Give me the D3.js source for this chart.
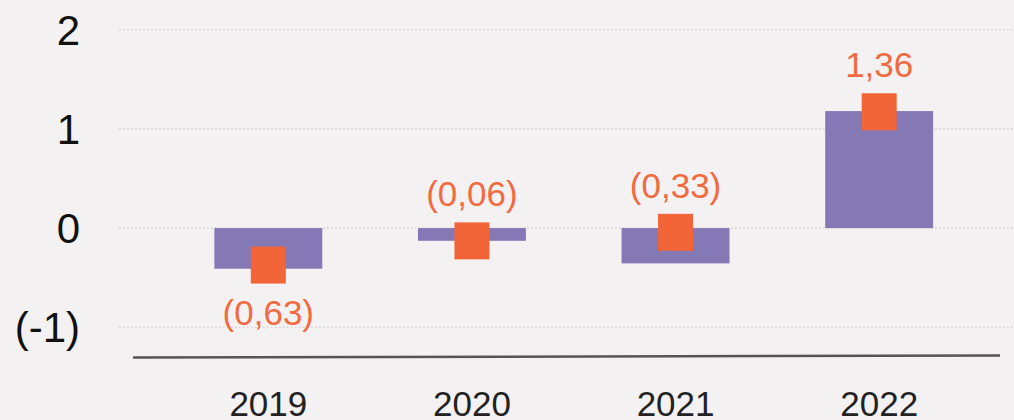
<!DOCTYPE html>
<html>
<meta charset="utf-8">
<style>
body {
  margin: 0;
  background: #f3f1f2;
  font-family: "Liberation Sans", Helvetica, Arial, sans-serif;
}
svg { display: block; }
.grid line {
  stroke: #c9c6c8;
  stroke-width: 1.2;
  stroke-dasharray: 1.5, 2.5;
}
.tick-label { font-size: 42px; fill: #111; }
.year-label { font-size: 35px; fill: #222; }
.val-label  { font-size: 35px; fill: #f26a40; }
</style>
<body>
<script src="https://cdn.jsdelivr.net/npm/d3@7"></script>
<script>
var years = ["2019", "2020", "2021", "2022"];
var barValues = [-0.41, -0.128, -0.356, 1.18];
var markerValues = [-0.373, -0.129, -0.043, 1.173];
var valueLabels = ["(0,63)", "(0,06)", "(0,33)", "1,36"];
var yTicks = [-1, 0, 1, 2];
var yTickLabels = ["(-1)", "0", "1", "2"];

var width = 1014, height = 420;

var svg = d3.select("body").append("svg")
    .attr("width", width)
    .attr("height", height);

var x = d3.scaleBand()
    .domain(years)
    .range([166.5, 981])
    .paddingInner(0.47)
    .paddingOuter(0.235);

var y = d3.scaleLinear()
    .domain([-1.3, 2.3])
    .range([357, 0]);

// dotted gridlines
svg.append("g")
    .attr("class", "grid")
    .selectAll("line")
    .data(yTicks)
    .enter().append("line")
    .attr("x1", 119)
    .attr("x2", width)
    .attr("y1", function(d) { return y(d); })
    .attr("y2", function(d) { return y(d); });

// y tick labels
svg.append("g")
    .selectAll("text")
    .data(yTicks)
    .enter().append("text")
    .attr("class", "tick-label")
    .attr("x", 80)
    .attr("y", function(d) { return y(d); })
    .attr("dy", "0.36em")
    .attr("text-anchor", "end")
    .text(function(d, i) { return yTickLabels[i]; });

// bottom axis line
svg.append("line")
    .attr("x1", 133)
    .attr("x2", 1000)
    .attr("y1", 357.5)
    .attr("y2", 355.5)
    .attr("stroke", "#555")
    .attr("stroke-width", 2.5);

// year labels
svg.append("g")
    .selectAll("text")
    .data(years)
    .enter().append("text")
    .attr("class", "year-label")
    .attr("x", function(d) { return x(d) + x.bandwidth() / 2; })
    .attr("y", 416)
    .attr("text-anchor", "middle")
    .text(function(d) { return d; });

var data = years.map(function(d, i) {
  return { year: d, bar: barValues[i], marker: markerValues[i], label: valueLabels[i] };
});

// bars
svg.append("g")
    .selectAll("rect")
    .data(data)
    .enter().append("rect")
    .attr("x", function(d) { return x(d.year); })
    .attr("width", x.bandwidth())
    .attr("y", function(d) { return y(Math.max(0, d.bar)); })
    .attr("height", function(d) { return Math.abs(y(d.bar) - y(0)); })
    .attr("fill", "#8479b5");

// markers
var mw = 35, mh = 37;
svg.append("g")
    .selectAll("rect")
    .data(data)
    .enter().append("rect")
    .attr("x", function(d) { return x(d.year) + x.bandwidth() / 2 - mw / 2; })
    .attr("y", function(d) { return y(d.marker) - mh / 2; })
    .attr("width", mw)
    .attr("height", mh)
    .attr("fill", "#f26539");

// value labels
svg.append("g")
    .selectAll("text")
    .data(data)
    .enter().append("text")
    .attr("class", "val-label")
    .attr("x", function(d) { return x(d.year) + x.bandwidth() / 2; })
    .attr("y", function(d, i) {
      return i === 0 ? y(d.marker) + mh / 2 + 41 : y(d.marker) - mh / 2 - 16;
    })
    .attr("text-anchor", "middle")
    .text(function(d) { return d.label; });
</script>
</body>
</html>
